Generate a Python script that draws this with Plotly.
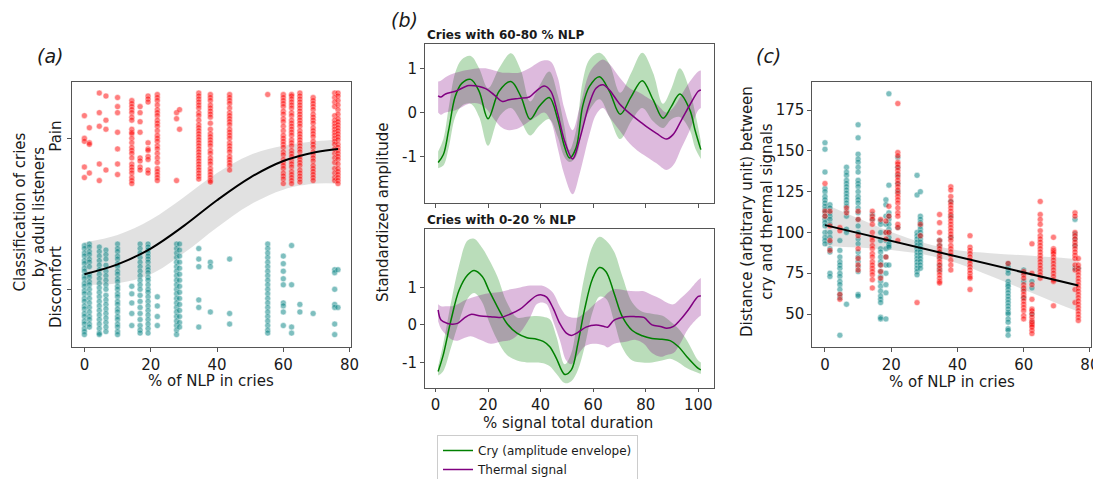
import plotly.graph_objects as go

# ------------------------------------------------------------------ data
# Panel (a): % NLP per recording, listener classification (1 = Pain, 0 = Discomfort, jittered)
a_nlp = [0, 1.5, 4.5, 6.5, 10, 14.3, 16.8, 19.2, 22, 27.8, 28.7, 34.5, 38, 43.8,
         55.3, 60, 62.5, 65, 69, 75.5, 76.5]
a_pain = [
    [1.15, 1.00, 0.98, 0.81, 0.74],
    [1.07, 0.97, 0.96, 0.77],
    [1.30, 1.17, 1.08, 0.83, 0.72],
    [1.28, 1.12, 1.06, 0.79],
    [1.27, 1.21, 1.17, 1.04, 0.93, 0.83, 0.76],
    [1.25, 1.23, 1.21, 1.19, 1.17, 1.14, 1.12, 1.06, 1.04, 1.03, 1.00, 0.97, 0.94, 0.92, 0.90, 0.87, 0.83, 0.81, 0.79, 0.77, 0.74, 0.72, 0.70],
    [1.21, 1.17, 1.11, 1.04, 0.87, 0.85, 0.81, 0.79],
    [1.28, 1.26, 1.24, 0.97, 0.93, 0.92, 0.88, 0.86, 0.79, 0.77],
    [1.29, 1.27, 1.25, 1.22, 1.19, 1.17, 1.15, 1.12, 1.10, 1.08, 1.05, 1.02, 1.00, 0.98, 0.95, 0.93, 0.90, 0.87, 0.84, 0.80, 0.78, 0.76, 0.74, 0.72],
    [1.17, 1.13, 0.72],
    [1.19, 1.06],
    [1.30, 1.28, 1.26, 1.24, 1.22, 1.20, 1.17, 1.15, 1.12, 1.09, 1.07, 1.05, 1.03, 1.01, 0.99, 0.97, 0.95, 0.93, 0.91, 0.89, 0.87, 0.85, 0.83, 0.81, 0.79, 0.77, 0.75, 0.73],
    [1.29, 1.27, 1.25, 1.22, 1.20, 1.18, 1.16, 1.14, 1.10, 1.06, 1.03, 1.01, 0.99, 0.97, 0.95, 0.92, 0.90, 0.87, 0.85, 0.83, 0.80, 0.78, 0.76, 0.74, 0.72, 0.71],
    [1.29, 1.27, 1.25, 1.23, 1.20, 1.17, 1.15, 1.13, 1.11, 1.09, 1.06, 1.04, 1.02, 1.00, 0.97, 0.95, 0.93, 0.91, 0.88, 0.86, 0.84, 0.82, 0.79],
    [1.29],
    [1.29, 1.27, 1.25, 1.23, 1.21, 1.18, 1.16, 1.13, 1.11, 1.08, 1.05, 1.02, 1.00, 0.98, 0.96, 0.94, 0.91, 0.89, 0.86, 0.84, 0.82, 0.80, 0.77, 0.75, 0.73, 0.70],
    [1.29, 1.28, 1.26, 1.24, 1.22, 1.20, 1.17, 1.15, 1.12, 1.10, 1.08, 1.06, 1.04, 1.02, 0.99, 0.97, 0.95, 0.92, 0.90, 0.88, 0.85, 0.83, 0.81, 0.78, 0.76, 0.74, 0.72, 0.70],
    [1.30, 1.28, 1.26, 1.24, 1.22, 1.20, 1.18, 1.16, 1.14, 1.12, 1.10, 1.08, 1.05, 1.03, 1.01, 0.99, 0.97, 0.95, 0.93, 0.91, 0.88, 0.86, 0.84, 0.82, 0.79, 0.77, 0.75, 0.73, 0.71],
    [1.27, 1.25, 1.23, 1.21, 1.19, 1.16, 1.14, 1.12, 1.10, 1.07, 1.05, 1.03, 1.01, 0.98, 0.96, 0.94, 0.91, 0.89, 0.87, 0.85, 0.82, 0.80, 0.78, 0.76, 0.74, 0.72],
    [1.30, 1.27, 1.24, 1.21, 1.15, 1.12, 1.10, 1.08, 1.06, 1.04, 1.02, 1.00, 0.98, 0.96, 0.93, 0.90, 0.87, 0.84, 0.80, 0.77, 0.74, 0.72],
    [1.30, 1.28, 1.25, 1.22, 1.19, 1.16, 1.13, 1.11, 1.09, 1.07, 1.05, 1.03, 1.01, 0.99, 0.96, 0.94, 0.92, 0.90, 0.88, 0.86, 0.83, 0.80, 0.78, 0.76, 0.74, 0.72, 0.70],
]
a_disc = [
    [0.29, 0.27, 0.24, 0.22, 0.19, 0.17, 0.14, 0.12, 0.09, 0.07, 0.04, 0.02, -0.01, -0.03, -0.06, -0.08, -0.11, -0.13, -0.16, -0.18, -0.21, -0.23, -0.26, -0.28, -0.30],
    [0.30, 0.28, 0.25, 0.23, 0.20, 0.18, 0.15, 0.10, 0.08, 0.05, 0.03, 0.00, -0.03, -0.06, -0.09, -0.12, -0.15, -0.18, -0.20, -0.23, -0.25],
    [0.28, 0.25, 0.22, 0.19, 0.16, 0.13, 0.10, 0.07, 0.04, 0.01, -0.02, -0.05, -0.08, -0.11, -0.14, -0.17, -0.20, -0.23, -0.26, -0.29, -0.30],
    [0.26, 0.23, 0.20, 0.16, 0.12, 0.09, 0.06, 0.03, 0.00, -0.04, -0.07, -0.10, -0.13, -0.16, -0.19, -0.22, -0.25, -0.28],
    [0.30, 0.27, 0.25, 0.22, 0.20, 0.17, 0.15, 0.12, 0.10, 0.07, 0.05, 0.02, 0.00, -0.03, -0.05, -0.08, -0.10, -0.13, -0.15, -0.18, -0.20, -0.23, -0.25, -0.28, -0.30],
    [0.02, -0.03, -0.09, -0.16, -0.24],
    [0.30, 0.27, 0.24, 0.21, 0.18, 0.15, 0.12, 0.09, 0.06, 0.03, 0.00, -0.04, -0.08, -0.12, -0.16, -0.20, -0.24, -0.27, -0.29],
    [0.30, 0.28, 0.26, 0.24, 0.22, 0.20, 0.18, 0.15, 0.13, 0.11, 0.08, 0.06, 0.03, 0.00, -0.02, -0.05, -0.08, -0.11, -0.14, -0.17, -0.20, -0.23, -0.26, -0.29],
    [-0.05, -0.11, -0.18, -0.24],
    [0.30, 0.27, 0.24, 0.21, 0.18, 0.15, 0.12, 0.09, 0.06, 0.03, 0.00, -0.03, -0.06, -0.09, -0.12, -0.15, -0.18, -0.21, -0.24, -0.27, -0.30],
    [0.30, 0.26, 0.22, 0.18, 0.14, 0.10, 0.06, 0.02, -0.02, -0.06, -0.10, -0.14, -0.18, -0.22, -0.25],
    [0.27, 0.20, 0.15, -0.07, -0.12, -0.25],
    [0.18, 0.15, -0.15],
    [0.20, -0.16, -0.23],
    [0.30, 0.27, 0.24, 0.21, 0.18, 0.15, 0.12, 0.09, 0.06, 0.03, 0.00, -0.03, -0.06, -0.09, -0.12, -0.15, -0.18, -0.21, -0.24, -0.27, -0.29],
    [0.22, 0.17, 0.12, 0.07, 0.03, -0.09, -0.11, -0.15, -0.24],
    [0.29, 0.03, -0.25, -0.29],
    [-0.10, -0.15],
    [-0.16],
    [0.13, 0.11, 0.00, -0.10, -0.12, -0.23, -0.30],
    [0.13, -0.12],
]
a_fit_x = [0, 10, 20, 30, 40, 50, 60, 70, 76.5]
a_fit_y = [0.10, 0.165, 0.27, 0.42, 0.59, 0.74, 0.85, 0.91, 0.93]
a_fit_hi = [0.31, 0.36, 0.46, 0.61, 0.77, 0.89, 0.95, 0.98, 0.99]
a_fit_lo = [0.03, 0.04, 0.10, 0.24, 0.41, 0.56, 0.66, 0.70, 0.70]

# Panel (b) top: cries with 60-80 % NLP
bt_cry_x = [1, 3, 5, 7.5, 10, 13.4, 16.6, 20, 24.2, 28.7, 32.5, 36, 39.5, 43.3, 46.5, 49, 51, 53.5, 56, 58.6,
            62.4, 66.2, 70.3, 74.5, 78.7, 82.8, 86.6, 89.8, 93, 96.8, 98.8, 101]
bt_cry_y = [-1.13, -0.95, -0.40, 0.36, 0.66, 0.75, 0.48, -0.14, 0.48, 0.70, 0.36, -0.15, 0.14, 0.34, -0.15, -0.75, -1.03, -0.80, 0.14, 0.59,
            0.81, 0.48, -0.04, 0.36, 0.72, 0.29, -0.13, 0.14, 0.42, 0.06, -0.40, -0.84]
bt_cry_hi = [-0.88, -0.60, 0.10, 0.90, 1.20, 1.28, 1.00, 0.55, 1.00, 1.34, 0.95, 0.25, 0.60, 0.93, 0.40, -0.30, -0.85, -0.40, 0.70, 1.20,
             1.35, 1.10, 0.45, 0.90, 1.35, 0.90, 0.20, 0.55, 1.00, 0.50, 0.00, -0.65]
bt_cry_lo = [-1.26, -1.20, -0.80, -0.10, 0.15, 0.20, -0.10, -0.75, -0.10, 0.10, -0.20, -0.52, -0.30, -0.15, -0.55, -1.00, -1.12, -1.00, -0.35, 0.05,
             0.30, -0.10, -0.60, -0.20, 0.10, -0.20, -0.35, -0.15, -0.10, -0.40, -0.80, -1.05]
bt_th_x = [1, 2, 3.8, 7.6, 12.7, 16.6, 19.1, 22.3, 25.5, 28, 31.8, 35.7, 38.2, 41.4, 43.9, 46.5, 49, 52.2, 54.8, 58.6,
           61.1, 63.7, 66.2, 70, 73.9, 77.7, 80.3, 84.1, 87.9, 90.4, 93.6, 96.8, 100, 101]
bt_th_y = [0.38, 0.35, 0.42, 0.48, 0.61, 0.59, 0.54, 0.40, 0.25, 0.29, 0.32, 0.35, 0.48, 0.60, 0.48, -0.02, -0.62, -1.05, -0.62, 0.21,
           0.55, 0.63, 0.51, 0.20, -0.02, -0.20, -0.32, -0.47, -0.60, -0.50, -0.17, 0.17, 0.48, 0.51]
bt_th_hi = [0.70, 0.72, 0.80, 0.90, 0.97, 1.00, 1.00, 0.95, 0.90, 0.90, 0.90, 1.00, 1.10, 1.18, 1.15, 0.80, 0.10, -0.40, 0.10, 0.90,
            1.10, 1.20, 1.10, 0.80, 0.55, 0.45, 0.35, 0.20, 0.00, 0.10, 0.40, 0.70, 0.93, 0.95]
bt_th_lo = [0.00, -0.05, 0.00, 0.05, 0.20, 0.20, 0.10, -0.15, -0.35, -0.40, -0.35, -0.20, -0.10, 0.00, -0.20, -0.80, -1.40, -1.85, -1.40, -0.50,
            -0.05, 0.10, -0.10, -0.40, -0.70, -0.90, -1.00, -1.15, -1.30, -1.20, -0.80, -0.40, 0.05, 0.10]

# Panel (b) bottom: cries with 0-20 % NLP
bb_cry_x = [1, 2.8, 5.9, 9, 12.2, 14.7, 17.8, 20.3, 23.5, 27.2, 31, 34.8, 38.5, 41, 43.5, 46, 49.2, 51.7, 54.2, 56.7,
            59.8, 62.4, 64.9, 68, 71.1, 74.9, 78.7, 82.4, 86.2, 89.3, 92.5, 95.6, 100, 101]
bb_cry_y = [-1.24, -0.84, 0.13, 0.93, 1.33, 1.45, 1.29, 0.93, 0.49, 0.04, -0.22, -0.34, -0.38, -0.44, -0.58, -0.89, -1.32, -1.20, -0.49, 0.40,
            1.24, 1.53, 1.42, 0.84, 0.22, -0.15, -0.29, -0.36, -0.38, -0.42, -0.58, -0.84, -1.16, -1.20]
bb_cry_hi = [-1.10, -0.55, 0.60, 1.60, 2.25, 2.30, 2.05, 1.75, 1.30, 0.60, 0.20, 0.22, 0.24, 0.22, 0.15, -0.30, -1.05, -0.75, 0.30, 1.30,
             2.10, 2.35, 2.25, 1.95, 1.30, 0.60, 0.35, 0.30, 0.25, 0.10, -0.10, -0.40, -0.95, -1.00]
bb_cry_lo = [-1.35, -1.25, -0.60, 0.10, 0.70, 0.85, 0.60, 0.10, -0.40, -0.80, -0.95, -1.00, -1.00, -1.02, -1.10, -1.30, -1.55, -1.50, -1.20, -0.60,
             0.35, 0.75, 0.70, 0.10, -0.60, -0.95, -1.00, -1.00, -0.95, -0.90, -1.00, -1.15, -1.28, -1.30]
bb_th_x = [1, 2.1, 4.6, 6.5, 8.4, 10.9, 13.4, 17.2, 21, 24.7, 28.5, 32.2, 36, 38.5, 40.4, 42.3, 44.8, 47.3, 49.8, 51.7,
           54.2, 57.3, 61.1, 64.2, 65.5, 68, 72.4, 76.2, 79.3, 82.4, 85.6, 88, 90.6, 93.1, 96.2, 100, 101]
bb_th_y = [0.40, 0.13, 0.04, 0.02, 0.04, 0.18, 0.28, 0.24, 0.22, 0.20, 0.29, 0.42, 0.65, 0.78, 0.80, 0.74, 0.44, 0.04, -0.22, -0.28,
           -0.20, -0.06, 0.00, -0.04, -0.06, 0.13, 0.22, 0.22, 0.20, 0.00, -0.04, -0.09, -0.04, 0.13, 0.40, 0.76, 0.77]
bb_th_hi = [0.55, 0.50, 0.50, 0.50, 0.55, 0.65, 0.72, 0.80, 0.85, 0.88, 0.95, 1.00, 1.05, 1.05, 1.05, 1.00, 0.85, 0.50, 0.25, 0.20,
            0.20, 0.35, 0.60, 0.75, 0.85, 0.95, 0.92, 0.90, 0.90, 0.80, 0.70, 0.60, 0.55, 0.70, 0.90, 1.20, 1.25]
bb_th_lo = [0.10, -0.10, -0.30, -0.40, -0.42, -0.35, -0.30, -0.40, -0.50, -0.45, -0.40, -0.20, 0.20, 0.55, 0.60, 0.55, 0.10, -0.40, -0.95, -1.05,
            -0.80, -0.55, -0.50, -0.55, -0.60, -0.50, -0.45, -0.40, -0.50, -0.75, -0.85, -0.80, -0.75, -0.50, -0.10, 0.20, 0.25]

# Panel (c): distance between cry and thermal signals
c_nlp = [0, 1.5, 4.5, 6.5, 10, 14.3, 16.8, 18.4, 19.3, 22, 27.8, 28.8, 34.6, 38, 43.8,
         55.3, 60, 62.5, 65, 69, 75.5, 76.5]
c_disc = [
    [155, 151, 137, 127, 125, 122, 120, 118, 116, 114, 112, 110, 108, 106, 104, 100, 97, 95, 93],
    [117, 115, 112, 110, 108, 105, 100, 97, 94, 90, 88, 75, 73],
    [95, 89, 85, 82, 80, 78, 75, 73, 70, 68, 65, 62, 60, 37],
    [140, 137, 135, 132, 130, 128, 126, 124, 122, 120, 118, 116, 113, 110, 102, 100, 56],
    [166, 158, 148, 145, 143, 140, 137, 132, 130, 128, 125, 122, 120, 118, 115, 112, 108, 104, 100, 96, 93, 88, 85, 82, 79, 76, 62, 61],
    [111, 108],
    [107, 105, 100, 95, 90, 88, 85, 82, 80, 76, 73, 70, 67, 64, 61, 59, 57, 48, 47],
    [120, 117, 110, 105, 100, 95, 90, 85, 80, 75, 68, 63, 47],
    [185, 129, 112, 110, 108, 105, 102, 100, 97, 95, 93, 92, 91, 80],
    [146, 140, 135, 130, 125, 103],
    [135, 123, 100, 98, 96, 94, 92, 90, 88, 86, 84, 82, 80, 78, 76, 74],
    [125, 110, 108, 106, 104, 102, 100, 98, 96, 94, 92, 90, 88, 86, 84, 82, 80, 78],
    [95, 92, 88, 85, 80, 77],
    [119, 110, 97],
    [],
    [81, 79, 77, 75, 70, 68, 67, 65, 63, 61, 59, 57, 55, 53, 51, 50, 47, 45, 41, 40, 37],
    [77, 75, 70, 65, 60],
    [70, 66, 50, 45],
    [],
    [],
    [108, 99, 96, 92, 78],
    [78],
]
c_pain = [
    [130, 113, 110],
    [113, 104, 95, 89],
    [103, 101, 62, 59],
    [115, 112],
    [113, 108, 98, 90, 84, 80, 77],
    [113, 110, 108, 105, 100, 97, 95, 92, 90, 87, 85, 82, 80, 78, 76, 74, 71, 66],
    [108, 80, 76, 72],
    [107, 100, 96, 85],
    [116, 110, 100],
    [179, 149, 147, 143, 142, 140, 138, 136, 134, 132, 130, 128, 126, 124, 122, 120, 118, 115, 112, 110, 105, 103, 95],
    [57],
    [105, 98],
    [111, 106, 100, 95, 92, 90, 88, 86, 84, 82, 80, 78, 76, 74, 72, 70, 69],
    [128, 126, 122, 119, 117, 115, 113, 111, 109, 107, 105, 103, 101, 99, 97, 95, 92, 90, 88, 86, 83, 80, 77],
    [98, 91, 89, 87, 85, 83, 81, 79, 77, 75, 73, 72, 65],
    [81],
    [76, 74, 72, 68, 66, 64, 62, 60, 58, 56, 54, 52, 49, 47],
    [93, 75, 68, 59, 53, 52, 50, 48, 46, 45, 44, 43, 42, 40, 38],
    [119, 111, 108, 105, 101, 98, 96, 94, 92, 90, 88, 86, 84, 82, 80, 78, 76, 74, 72],
    [97, 90, 89, 88, 87, 85, 83, 81, 79, 77, 75, 73, 71, 70, 55],
    [112, 110, 100, 98, 96, 94, 92, 90, 88, 86, 84, 80, 77, 65, 57],
    [84, 80, 78, 76, 74, 72, 70, 68, 66, 64, 62, 60, 58, 56, 54, 52, 50, 48, 46],
]
c_fit_x = [0, 10, 20, 30, 40, 50, 60, 70, 76.5]
c_fit_y = [104.5, 99.7, 94.8, 90.0, 85.1, 80.3, 75.5, 70.6, 67.5]
c_fit_hi = [117.5, 108.7, 100.3, 93.5, 89.1, 87.3, 86.0, 84.6, 83.5]
c_fit_lo = [91.5, 90.7, 89.3, 86.5, 81.1, 73.3, 65.0, 56.6, 51.5]

a_ticktext = ["Discomfort", "Pain"]
b_ytick = [-1, 0, 1]
b_yticktext = ["-1", "0", "1"]

# ------------------------------------------------------------------ styling
FONT = "DejaVu Sans"
TXT = "#1a1a1a"
AX = "#555555"
RED = "#ff0000"
TEAL = "#008080"
GREEN = "#008000"
PURPLE = "#800080"
GREEN_FILL = "rgba(0,128,0,0.27)"
PURPLE_FILL = "rgba(128,0,128,0.27)"
GRAY_FILL = "rgba(120,120,120,0.22)"

fig = go.Figure()


def flat(xs, cols):
    X, Y = [], []
    for x, ys in zip(xs, cols):
        X += [x] * len(ys)
        Y += list(ys)
    return X, Y


def band(x, lo, hi, color, xa, ya, shape="spline"):
    fig.add_trace(go.Scatter(x=x, y=hi, mode="lines", line=dict(width=0, shape=shape),
                             showlegend=False, hoverinfo="skip", xaxis=xa, yaxis=ya))
    fig.add_trace(go.Scatter(x=x, y=lo, mode="lines", line=dict(width=0, shape=shape),
                             fill="tonexty", fillcolor=color, showlegend=False,
                             hoverinfo="skip", xaxis=xa, yaxis=ya))


def pts(X, Y, color, xa, ya):
    fig.add_trace(go.Scatter(x=X, y=Y, mode="markers", xaxis=xa, yaxis=ya, showlegend=False,
                             marker=dict(size=6, color=color, opacity=0.5,
                                         line=dict(color="white", width=0.5))))


# ---- panel (a)
band(a_fit_x, a_fit_lo, a_fit_hi, GRAY_FILL, "x", "y")
px, py = flat(a_nlp, a_disc)
pts(px, py, TEAL, "x", "y")
px, py = flat(a_nlp, a_pain)
pts(px, py, RED, "x", "y")
fig.add_trace(go.Scatter(x=a_fit_x, y=a_fit_y, mode="lines", line=dict(color="black", width=2, shape="spline"),
                         showlegend=False, xaxis="x", yaxis="y"))

# ---- panel (b) top
band(bt_cry_x, bt_cry_lo, bt_cry_hi, GREEN_FILL, "x2", "y2")
band(bt_th_x, bt_th_lo, bt_th_hi, PURPLE_FILL, "x2", "y2")
fig.add_trace(go.Scatter(x=bt_cry_x, y=bt_cry_y, mode="lines", name="Cry (amplitude envelope)",
                         line=dict(color=GREEN, width=1.5, shape="spline"), xaxis="x2", yaxis="y2",
                         showlegend=True))
fig.add_trace(go.Scatter(x=bt_th_x, y=bt_th_y, mode="lines", name="Thermal signal",
                         line=dict(color=PURPLE, width=1.5, shape="spline"), xaxis="x2", yaxis="y2",
                         showlegend=True))

# ---- panel (b) bottom
band(bb_cry_x, bb_cry_lo, bb_cry_hi, GREEN_FILL, "x3", "y3")
band(bb_th_x, bb_th_lo, bb_th_hi, PURPLE_FILL, "x3", "y3")
fig.add_trace(go.Scatter(x=bb_cry_x, y=bb_cry_y, mode="lines", showlegend=False,
                         line=dict(color=GREEN, width=1.5, shape="spline"), xaxis="x3", yaxis="y3"))
fig.add_trace(go.Scatter(x=bb_th_x, y=bb_th_y, mode="lines", showlegend=False,
                         line=dict(color=PURPLE, width=1.5, shape="spline"), xaxis="x3", yaxis="y3"))

# ---- panel (c)
band(c_fit_x, c_fit_lo, c_fit_hi, GRAY_FILL, "x4", "y4")
px, py = flat(c_nlp, c_disc)
pts(px, py, TEAL, "x4", "y4")
px, py = flat(c_nlp, c_pain)
pts(px, py, RED, "x4", "y4")
fig.add_trace(go.Scatter(x=c_fit_x, y=c_fit_y, mode="lines", line=dict(color="black", width=2),
                         showlegend=False, xaxis="x4", yaxis="y4"))

# The page body has an 8px margin; the figure is sized so it ends at the window edge.
OFF = 8
W, H = 1101 - OFF, 479 - OFF


def dx(p):
    return (p - OFF) / W


def dy(p):
    return 1 - (p - OFF) / H


def axis(domain, rng, anchor, **kw):
    d = dict(domain=domain, range=rng, anchor=anchor, showline=True, linecolor=AX, linewidth=1,
             mirror=True, ticks="outside", ticklen=4, tickcolor=AX, showgrid=False, zeroline=False,
             tickfont=dict(family=FONT, size=15, color=TXT))
    d.update(kw)
    return d


fig.update_layout(
    width=W, height=H, plot_bgcolor="white", paper_bgcolor="white",
    margin=dict(l=0, r=0, t=0, b=0, autoexpand=False),
    font=dict(family=FONT, color=TXT),
    xaxis=axis([dx(71.7), dx(350.7)], [-3.83, 80.33], "y", tickvals=[0, 20, 40, 60, 80]),
    yaxis=axis([dy(346.7), dy(81.7)], [-0.38, 1.375], "x", tickvals=[0, 1], ticktext=a_ticktext,
               tickangle=-90),
    xaxis2=axis([dx(425), dx(714)], [-4, 106], "y2", tickvals=[0, 20, 40, 60, 80, 100],
                showticklabels=False),
    yaxis2=axis([dy(202.7), dy(44)], [-2.04, 1.55], "x2", tickvals=b_ytick, ticktext=b_yticktext),
    xaxis3=axis([dx(425), dx(714)], [-4, 106], "y3", tickvals=[0, 20, 40, 60, 80, 100], ticklen=3),
    yaxis3=axis([dy(388.3), dy(229.3)], [-1.69, 2.55], "x3", tickvals=b_ytick, ticktext=b_yticktext),
    xaxis4=axis([dx(812.3), dx(1091)], [-3.83, 80.33], "y4", tickvals=[0, 20, 40, 60, 80]),
    yaxis4=axis([dy(347.3), dy(81.7)], [29.6, 192.4], "x4", tickvals=[50, 75, 100, 125, 150, 175]),
    legend=dict(x=dx(437), y=dy(435), xanchor="left", yanchor="top", bgcolor="white",
                bordercolor="#cccccc", borderwidth=1, font=dict(family=FONT, size=12, color=TXT),
                tracegroupgap=0, traceorder="normal"),
    showlegend=True,
)

ann = [
    dict(text="<i>(a)</i>", x=dx(50), y=dy(56), size=19),
    dict(text="<i>(b)</i>", x=dx(404), y=dy(20), size=19),
    dict(text="<i>(c)</i>", x=dx(768), y=dy(56), size=19),
    dict(text="<b>Cries with 60-80 % NLP</b>", x=dx(425), y=dy(35.5), size=12, xanchor="left"),
    dict(text="<b>Cries with 0-20 % NLP</b>", x=dx(425), y=dy(220), size=12, xanchor="left"),
    dict(text="% of NLP in cries", x=dx(211), y=dy(381), size=15),
    dict(text="% of NLP in cries", x=dx(951.7), y=dy(382), size=15),
    dict(text="% signal total duration", x=dx(568), y=dy(423), size=15),
    dict(text="Classification of cries<br>by adult listeners", x=dx(29.5), y=dy(212), size=15, angle=-90),
    dict(text="Standardized amplitude", x=dx(383), y=dy(212), size=15, angle=-90),
    dict(text="Distance (arbitrary unit) between<br>cry and thermal signals", x=dx(757), y=dy(212),
         size=15, angle=-90),
]
for a in ann:
    fig.add_annotation(text=a["text"], x=a["x"], y=a["y"], xref="paper", yref="paper",
                       xanchor=a.get("xanchor", "center"), yanchor="middle", showarrow=False,
                       textangle=a.get("angle", 0),
                       font=dict(family=FONT, size=a["size"], color=TXT))

fig.write_html("out.html")
